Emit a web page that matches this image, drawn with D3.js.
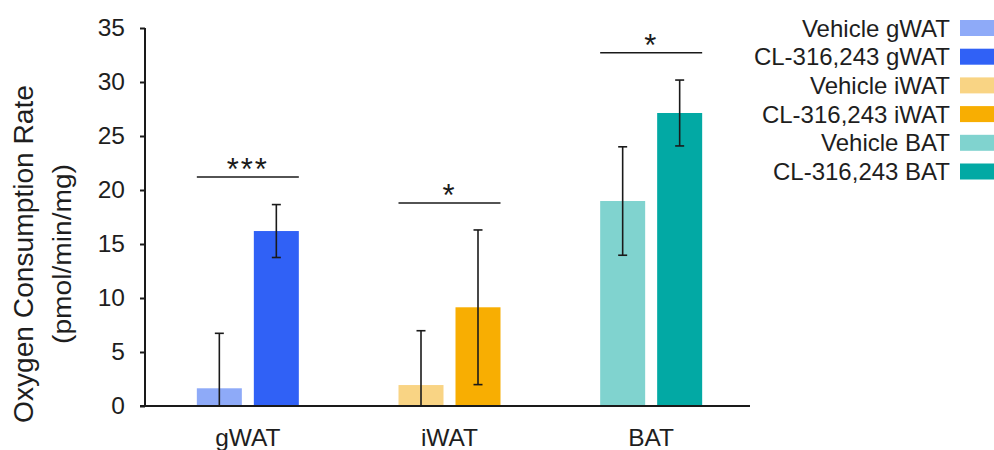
<!DOCTYPE html>
<html>
<head>
<meta charset="utf-8">
<script src="https://cdn.jsdelivr.net/npm/d3@7"></script>
<style>
  html, body { margin: 0; padding: 0; background: #fff; }
  svg { display: block; font-family: "Liberation Sans", Arial, sans-serif; }
</style>
</head>
<body>
<svg id="chart" width="994" height="450"></svg>
<script>
// ---- data ----
const categories = ["gWAT", "iWAT", "BAT"];
const treatments = ["Vehicle", "CL-316,243"];
const vehicleMean = [1.64, 1.94, 18.98];
const vehicleSD = [5.09, 5.03, 5.02];
const clMean = [16.2, 9.14, 27.13];
const clSD = [2.45, 7.16, 3.05];
const significance = ["***", "*", "*"];
const sigHeight = [21.2, 18.8, 32.7];
const yTicks = [0, 5, 10, 15, 20, 25, 30, 35];
const yTitle = ["Oxygen Consumption Rate", "(pmol/min/mg)"];

// colors per category x treatment
const palette = {
  gWAT: ["#8eaaf8", "#3061f6"],
  iWAT: ["#f9d484", "#f8ae02"],
  BAT: ["#80d3cf", "#02a9a4"]
};

// ---- layout ----
const svg = d3.select("#chart");
const y = d3.scaleLinear().domain([0, 35]).range([406, 28]);
const x = d3.scaleBand().domain(categories).range([147, 752]);
const inner = d3.scaleBand().domain(treatments).range([-51, 51]).paddingInner(0.2105);
const ink = "#1a1a1a";
const font = "Liberation Sans, Arial, sans-serif";

const rows = [];
categories.forEach((c, i) => {
  rows.push({cat: c, trt: treatments[0], mean: vehicleMean[i], sd: vehicleSD[i], color: palette[c][0]});
  rows.push({cat: c, trt: treatments[1], mean: clMean[i], sd: clSD[i], color: palette[c][1]});
});

// bars
svg.append("g").selectAll("rect").data(rows).join("rect")
  .attr("x", d => x(d.cat) + x.bandwidth() / 2 + inner(d.trt))
  .attr("y", d => y(d.mean))
  .attr("width", inner.bandwidth())
  .attr("height", d => y(0) - y(d.mean))
  .attr("fill", d => d.color);

// error bars
const eg = svg.append("g").attr("stroke", ink).attr("stroke-width", 1.6);
rows.forEach(d => {
  const cx = x(d.cat) + x.bandwidth() / 2 + inner(d.trt) + inner.bandwidth() / 2;
  const hi = d.mean + d.sd;
  const lo = Math.max(0, d.mean - d.sd);
  eg.append("line").attr("x1", cx).attr("x2", cx).attr("y1", y(hi)).attr("y2", y(lo));
  eg.append("line").attr("x1", cx - 4.5).attr("x2", cx + 4.5).attr("y1", y(hi)).attr("y2", y(hi));
  if (d.mean - d.sd > 0) {
    eg.append("line").attr("x1", cx - 4.5).attr("x2", cx + 4.5).attr("y1", y(lo)).attr("y2", y(lo));
  }
});

// significance
categories.forEach((c, i) => {
  const x0 = x(c) + x.bandwidth() / 2 + inner.range()[0];
  const x1 = x(c) + x.bandwidth() / 2 + inner.range()[1];
  const yy = y(sigHeight[i]);
  svg.append("line").attr("x1", x0).attr("x2", x1).attr("y1", yy).attr("y2", yy)
    .attr("stroke", ink).attr("stroke-width", 1.5);
  svg.append("text").attr("x", (x0 + x1) / 2).attr("y", yy + 3)
    .attr("text-anchor", "middle").attr("font-size", 31).attr("letter-spacing", 2)
    .attr("fill", ink).text(significance[i]);
});

// y axis
const yAxis = svg.append("g").attr("transform", "translate(145,0)")
  .call(d3.axisLeft(y).tickValues(yTicks).tickSize(5).tickPadding(15));
yAxis.select(".domain").attr("stroke", ink).attr("stroke-width", 2)
  .attr("d", `M0,${y(35)}V${y(0)}`);
yAxis.selectAll(".tick line").attr("stroke", ink).attr("stroke-width", 2);
yAxis.selectAll(".tick text").attr("font-size", 24.5).attr("fill", "#1e1e1e")
  .attr("font-family", font);

// x axis
const xAxis = svg.append("g").attr("transform", `translate(0,${y(0)})`)
  .call(d3.axisBottom(x).tickSize(0).tickPadding(23));
xAxis.select(".domain").attr("stroke", ink).attr("stroke-width", 2).attr("d", "M140,0H750");
xAxis.selectAll(".tick text").attr("font-size", 24.5).attr("fill", "#1e1e1e")
  .attr("dy", "0.71em")
  .attr("font-family", font);

// y title
const tg = svg.append("g").attr("transform", "translate(0,254) rotate(-90)");
tg.append("text").attr("x", 0).attr("y", 33).attr("text-anchor", "middle")
  .attr("font-size", 27).attr("fill", "#1e1e1e")
  .attr("textLength", 338).attr("lengthAdjust", "spacingAndGlyphs").text(yTitle[0]);
tg.append("text").attr("x", 0).attr("y", 71).attr("text-anchor", "middle")
  .attr("font-size", 26).attr("fill", "#1e1e1e")
  .attr("textLength", 180).attr("lengthAdjust", "spacingAndGlyphs").text(yTitle[1]);

// legend
const legendRows = rows.map(d => ({label: d.trt + " " + d.cat, color: d.color}));
const lg = svg.append("g").selectAll("g").data(legendRows).join("g")
  .attr("transform", (d, i) => `translate(0,${28 + i * 28.7})`);
lg.append("rect").attr("x", 960).attr("y", -8).attr("width", 40).attr("height", 16)
  .attr("fill", d => d.color);
lg.append("text").attr("x", 950).attr("y", 8.5).attr("text-anchor", "end")
  .attr("font-size", 24).attr("fill", "#1e1e1e").text(d => d.label);
</script>
</body>
</html>
